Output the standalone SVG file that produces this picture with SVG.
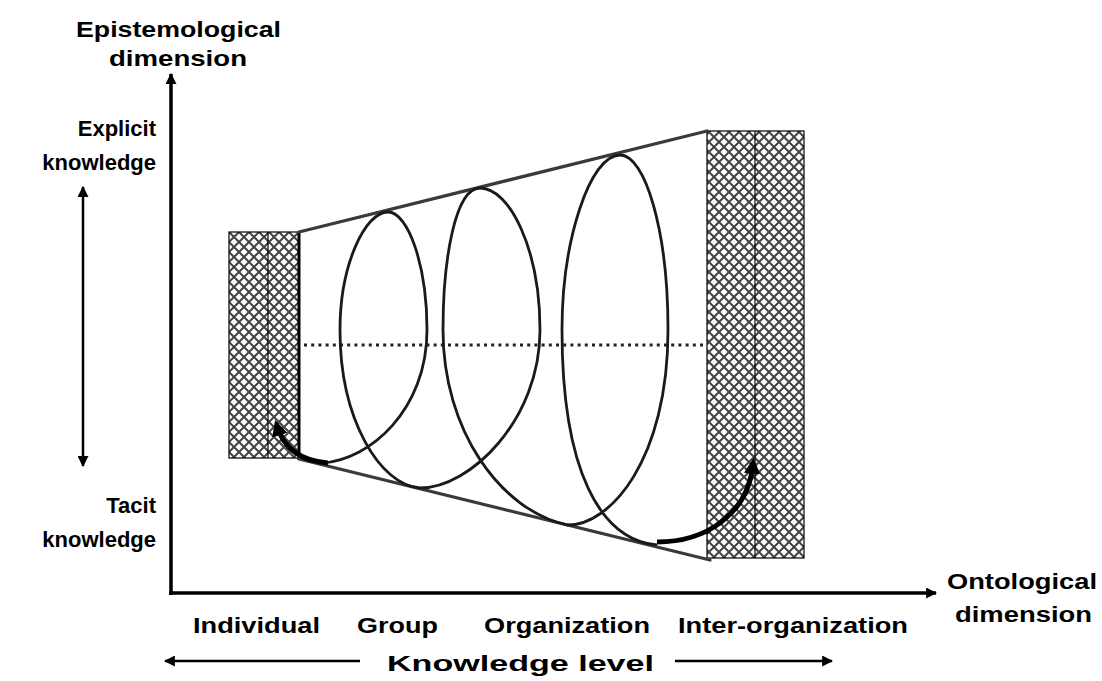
<svg xmlns="http://www.w3.org/2000/svg" width="1102" height="681" viewBox="0 0 1102 681">
  <style>
    .lbl { font-family: "Liberation Sans", Arial, sans-serif; font-weight: bold; font-size: 22px; fill: #000; }
    .lblr { font-family: "Liberation Sans", Arial, sans-serif; font-weight: bold; font-size: 22px; fill: #000; text-anchor: end; }
    .axis { stroke: #000; stroke-width: 3.5; fill: none; }
    .thin { stroke: #000; stroke-width: 2.5; fill: none; }
    .edge { stroke: #3a3a3a; stroke-width: 3.2; fill: none; stroke-linecap: round; }
    .spiral { stroke: #1a1a1a; stroke-width: 2.8; fill: none; }
    .thick { stroke: #000; stroke-width: 5; fill: none; }
    .hatch { fill: url(#cross); stroke: #000; stroke-width: 1.2; }
    .divider { stroke: #000; stroke-width: 1.2; }
    .dots { stroke: #222; stroke-width: 3; stroke-dasharray: 3 4.2; fill: none; }
  </style>
  <defs>
    <pattern id="cross" patternUnits="userSpaceOnUse" width="10" height="10" x="229" y="232">
      <rect width="10" height="10" fill="#fff"/>
      <path d="M0,0 L10,10 M10,0 L0,10" stroke="#444" stroke-width="2"/>
    </pattern>
    <marker id="ah" viewBox="0 0 10 10" refX="9" refY="5" markerWidth="11" markerHeight="11" markerUnits="userSpaceOnUse" orient="auto-start-reverse">
      <path d="M0,0 L10,5 L0,10 z" fill="#000"/>
    </marker>
    <marker id="ahBig" viewBox="0 0 10 10" refX="6" refY="5" markerWidth="16" markerHeight="16" markerUnits="userSpaceOnUse" orient="auto">
      <path d="M0,0 L10,5 L0,10 z" fill="#000"/>
    </marker>
  </defs>
  <rect width="1102" height="681" fill="#fff"/>

  <g id="left-box">
    <rect class="hatch" x="229" y="232" width="70" height="226"/>
    <line class="divider" x1="268" y1="232" x2="268" y2="458"/>
  </g>
  <g id="right-box">
    <rect class="hatch" x="707" y="131" width="97" height="427"/>
    <line class="divider" x1="755" y1="131" x2="755" y2="558"/>
  </g>

  <g id="funnel">
    <line x1="299" y1="232" x2="299" y2="460" stroke="#000" stroke-width="3"/>
    <line class="edge" x1="299" y1="232" x2="707" y2="131"/>
    <line class="edge" x1="299" y1="459" x2="710" y2="560"/>
    <line class="dots" x1="304" y1="345" x2="706" y2="345"/>
  </g>

  <g id="spiral">
    <path class="spiral" d="M 322 463 C 370 460 427 410 427 330 C 427 265 408 212 388 212 C 365 212 340 265 340 330 C 340 420 380 485 420 488 C 470 488 540 420 540 330 C 540 250 510 188 480 188 C 455 188 443 260 443 330 C 443 430 500 510 567 525 C 610 526 668 460 668 330 C 668 230 645 155 620 155 C 590 155 562 240 562 330 C 562 470 600 540 657 545"/>
  </g>

  <g id="connectors">
    <line class="axis" x1="171" y1="595" x2="171" y2="74" marker-end="url(#ah)"/>
    <line class="axis" x1="169" y1="593" x2="936" y2="593" marker-end="url(#ah)"/>
    <line class="thin" x1="83" y1="187" x2="83" y2="466" marker-start="url(#ah)" marker-end="url(#ah)"/>
    <line class="thin" x1="360" y1="661" x2="165" y2="661" marker-end="url(#ah)"/>
    <line class="thin" x1="675" y1="661" x2="832" y2="661" marker-end="url(#ah)"/>
    <path class="thick" d="M 328 463 C 302 461 284 449 277 426" marker-end="url(#ahBig)"/>
    <path class="thick" d="M 657 542 C 705 542 748 515 753 464" marker-end="url(#ahBig)"/>
  </g>

  <g id="labels">
    <text class="lbl" x="76" y="37" textLength="205" lengthAdjust="spacingAndGlyphs">Epistemological</text>
    <text class="lbl" x="109" y="66" textLength="138" lengthAdjust="spacingAndGlyphs">dimension</text>
    <text class="lblr" x="156" y="136">Explicit</text>
    <text class="lblr" x="156" y="170">knowledge</text>
    <text class="lblr" x="156" y="513">Tacit</text>
    <text class="lblr" x="156" y="547">knowledge</text>
    <text class="lbl" x="947" y="589" textLength="150" lengthAdjust="spacingAndGlyphs">Ontological</text>
    <text class="lbl" x="955" y="622" textLength="137" lengthAdjust="spacingAndGlyphs">dimension</text>
    <text class="lbl" x="193" y="633" textLength="127" lengthAdjust="spacingAndGlyphs">Individual</text>
    <text class="lbl" x="357" y="633" textLength="81" lengthAdjust="spacingAndGlyphs">Group</text>
    <text class="lbl" x="484" y="633" textLength="166" lengthAdjust="spacingAndGlyphs">Organization</text>
    <text class="lbl" x="678" y="633" textLength="230" lengthAdjust="spacingAndGlyphs">Inter-organization</text>
    <text class="lbl" x="387" y="671" textLength="267" lengthAdjust="spacingAndGlyphs">Knowledge level</text>
  </g>
</svg>
